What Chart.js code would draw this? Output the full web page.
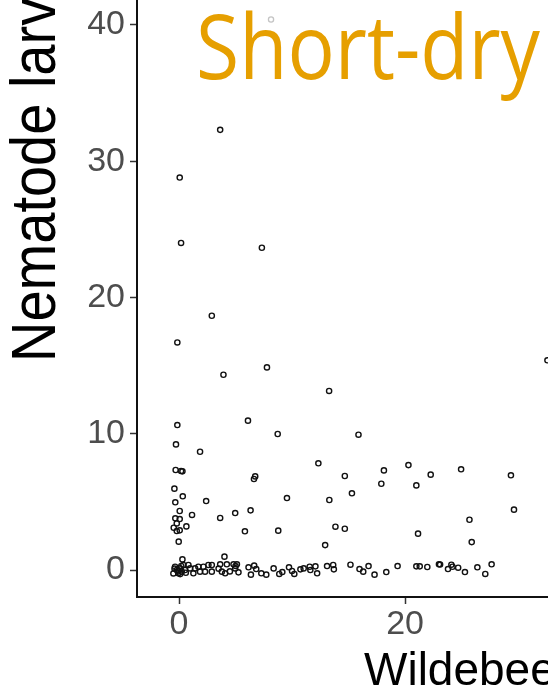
<!DOCTYPE html>
<html>
<head>
<meta charset="utf-8">
<script src="https://cdn.jsdelivr.net/npm/chart.js@4"></script>
<style>
  html, body { margin: 0; padding: 0; background: #fff; }
  canvas { display: block; }
</style>
</head>
<body>
<canvas id="larvaeChart" width="548" height="692"></canvas>
<script>
// wildebeest dung vs nematode larvae, short-dry panel
const dungX = [
  0.06, 3.64, 0.18, 7.33, 2.9, -0.15, 3.93, 7.78, 13.28, 32.6,
  -0.15, 6.1, 8.73, -0.27, 1.86, 12.33, -0.3, 0.18, 0.3, 14.67,
  6.74, 6.63, -0.41, 15.3, 0.33, 9.55, -0.33, 2.4, 13.3, 0.06,
  6.33, 4.97, 1.15, 3.64, -0.33, 0.06, -0.2, -0.47, 0.65, -0.2,
  0.06, 5.83, 8.78, 13.84, 14.67, -0.03, 12.93, 4.02, 0.3,
  15.88, 20.3, 18.13, 24.96, 22.27, 29.37, 17.9, 21.0, 29.64, 25.7,
  21.15, 25.9,
  -0.5, -0.35, -0.2, -0.06, 0.09, 0.24, 0.38, 0.53, 0.83, 0.98,
  1.27, 1.42, 1.71, 1.86, 2.16, 2.3, 2.6, 2.9, 2.9, 3.64,
  3.79, 4.08, 4.23, 4.82, 4.97, 5.12, 5.26, 6.15, 6.36, 6.65,
  6.83, 7.28, 7.72, 8.37, 8.87, 9.14, 9.73, 10.0, 10.2, 10.74,
  11.03, 11.56, 11.62, 12.07, 12.22, 13.1, 13.64, 13.7,
  15.17, 15.97, 16.3, 16.77, 17.3, 18.34, 19.34, 21.0, 21.3, 21.97,
  23.0, 23.1, 23.8, 24.1, 24.2, 24.7, 25.3, 26.4, 27.1, 27.66,
  -0.1, 0.1, 0.2, -0.4, 0.6, 3.5, 4.5, 5.0
];
const larvaeY = [
  28.8, 32.3, 24.0, 23.65, 18.66, 16.7, 14.33, 14.87, 13.14, 15.39,
  10.64, 10.96, 9.98, 9.22, 8.68, 7.83, 7.34, 7.27, 7.24, 6.9,
  6.87, 6.68, 5.97, 5.63, 5.41, 5.28, 4.97, 5.06, 5.14, 4.33,
  4.38, 4.18, 4.04, 3.82, 3.79, 3.74, 3.42, 3.1, 3.2, 2.86,
  2.91, 2.84, 2.89, 3.18, 3.03, 2.08, 1.83, 0.98, 0.78,
  9.93, 7.7, 7.31, 7.39, 7.0, 6.95, 6.33, 6.21, 4.43, 3.69,
  2.67, 2.05,
  -0.25, 0.24, 0, -0.24, 0.12, -0.12, 0.37, 0, 0.37, 0.12,
  -0.24, 0.12, 0.24, -0.12, 0.24, -0.12, 0.37, 0.37, -0.12, 0.42,
  -0.12, -0.24, 0.42, 0.42, 0.12, 0.42, -0.17, 0.2, -0.34, 0.32,
  0.07, -0.24, -0.34, 0.12, -0.29, -0.15, 0.2, -0.07, -0.29, 0.05,
  0.12, 0.24, 0, 0.27, -0.24, 0.29, 0.37, 0.05,
  0.39, 0.07, -0.12, 0.29, -0.34, -0.15, 0.29, 0.27, 0.27, 0.22,
  0.42, 0.4, 0.07, 0.39, 0.24, 0.17, -0.15, 0.2, -0.29, 0.42,
  -0.1, -0.3, 0.3, 0.1, -0.2, 0.1, -0.1, 0.3
];
// faint point near the top
const faintX = [8.14];
const faintY = [40.4];

const xTicks = [0, 20];
const yTicks = [0, 10, 20, 30, 40];

const panelLabel = "Short-dry";
const xTitle = "Wildebeest dung";
const yTitle = "Nematode larvae";

const toPoints = (xs, ys) => xs.map((x, i) => ({ x, y: ys[i] }));

const tickFont = { family: "'Liberation Sans', Arial, sans-serif", size: 34 };

const noPadding = (scale) => {
  scale.paddingLeft = 0;
  scale.paddingRight = 0;
  scale.paddingTop = 0;
  scale.paddingBottom = 0;
};

const titles = {
  id: "titles",
  beforeDatasetsDraw(chart) {
    const ctx = chart.ctx;
    ctx.save();
    ctx.font = "90px 'Open Sans', sans-serif";
    const w = ctx.measureText(panelLabel).width;
    ctx.translate(196, 79);
    ctx.scale(344 / w, 1);
    ctx.fillStyle = "#E69F00";
    ctx.textBaseline = "alphabetic";
    ctx.fillText(panelLabel, 0, 0);
    ctx.restore();
  },
  afterDraw(chart) {
    const ctx = chart.ctx;
    ctx.save();
    ctx.fillStyle = "#000";
    ctx.font = "46px 'Liberation Sans', Arial, sans-serif";
    ctx.textBaseline = "alphabetic";
    ctx.fillText(xTitle, 364, 685);
    ctx.restore();

    ctx.save();
    ctx.fillStyle = "#000";
    ctx.font = "56px 'Liberation Sans', Arial, sans-serif";
    ctx.translate(55, 362);
    ctx.rotate(-Math.PI / 2);
    ctx.scale(1, 1.12);
    ctx.textBaseline = "alphabetic";
    ctx.fillText(yTitle, 0, 0);
    ctx.restore();
  },
};

const ctx = document.getElementById("larvaeChart");

const larvaeChart = new Chart(ctx, {
  type: "scatter",
  data: {
    datasets: [
      {
        data: toPoints(faintX, faintY),
        pointRadius: 2.6,
        pointBorderWidth: 1.3,
        borderColor: "#c4c4c4",
        backgroundColor: "#fff",
      },
      {
        data: toPoints(dungX, larvaeY),
        pointRadius: 2.6,
        pointBorderWidth: 1.4,
        borderColor: "#111",
        backgroundColor: "rgba(0,0,0,0)",
      },
    ],
  },
  options: {
    responsive: false,
    animation: false,
    layout: { padding: 0, autoPadding: false },
    plugins: {
      legend: { display: false },
      tooltip: { enabled: false },
    },
    scales: {
      x: {
        type: "linear",
        min: -3.72,
        max: 32.65,
        afterBuildTicks: (s) => {
          s.ticks = xTicks.map((v) => ({ value: v }));
        },
        afterFit: (s) => {
          s.height = 95;
          noPadding(s);
        },
        grid: {
          drawOnChartArea: false,
          drawTicks: true,
          tickLength: 7,
          tickWidth: 1.5,
          tickColor: "#333",
        },
        border: { color: "#111", width: 2 },
        ticks: {
          color: "#4d4d4d",
          font: tickFont,
          padding: 0,
          maxRotation: 0,
          autoSkip: false,
        },
      },
      y: {
        type: "linear",
        min: -1.98,
        max: 41.83,
        afterBuildTicks: (s) => {
          s.ticks = yTicks.map((v) => ({ value: v }));
        },
        afterFit: (s) => {
          s.width = 137;
          noPadding(s);
        },
        grid: {
          drawOnChartArea: false,
          drawTicks: true,
          tickLength: 7,
          tickWidth: 1.5,
          tickColor: "#333",
        },
        border: { color: "#111", width: 2 },
        ticks: {
          color: "#4d4d4d",
          font: tickFont,
          padding: 5,
          autoSkip: false,
        },
      },
    },
  },
  plugins: [titles],
});
</script>
</body>
</html>
